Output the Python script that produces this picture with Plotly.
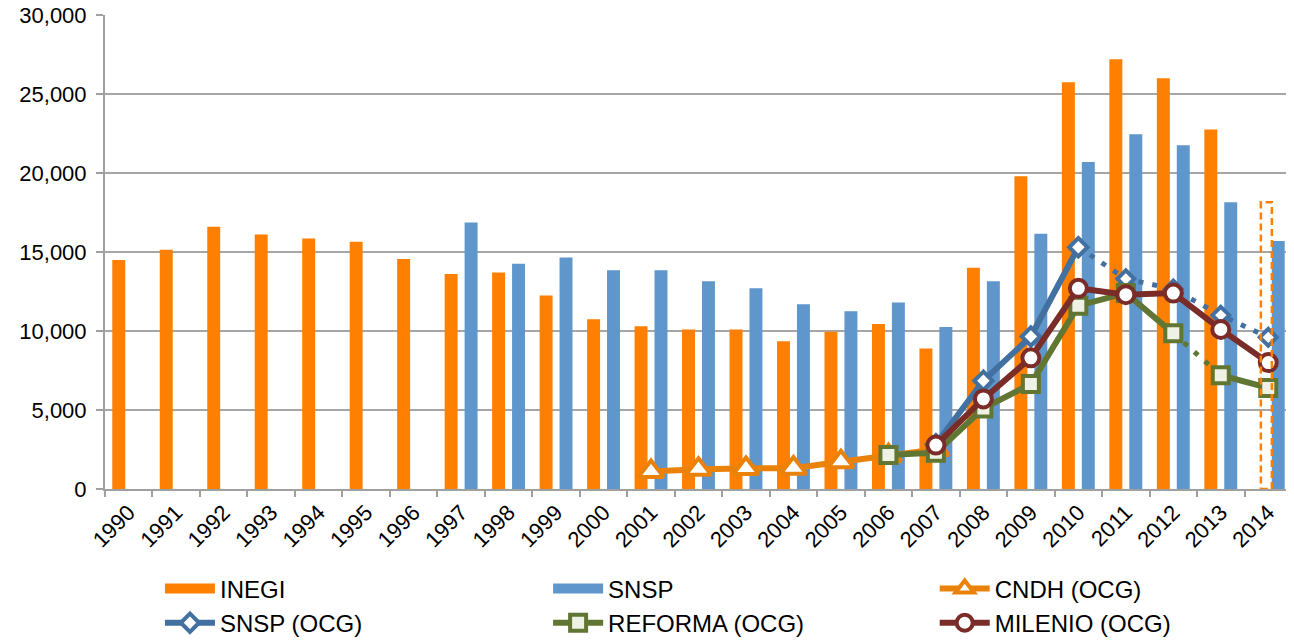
import plotly.graph_objects as go

years = [str(y) for y in range(1990, 2015)]

inegi = [14500, 15150, 16600, 16100, 15850, 15650, 14550, 13600, 13700, 12250,
         10750, 10300, 10100, 10100, 9350, 9950, 10450, 8900, 14000, 19800,
         25750, 27200, 26000, 22750, None]
inegi_2014_est = 18150

snsp = [None, None, None, None, None, None, None, 16870, 14250, 14650,
        13850, 13850, 13150, 12700, 11700, 11250, 11800, 10250, 13150, 16150,
        20700, 22450, 21750, 18150, 15700]

cndh_years = ["2001", "2002", "2003", "2004", "2005", "2006", "2007"]
cndh = [1100, 1250, 1300, 1320, 1720, 2100, 2500]

ocg_years = ["2007", "2008", "2009", "2010", "2011", "2012", "2013", "2014"]
snsp_ocg = [2830, 6850, 9650, 15300, 13300, 12650, 11000, 9600]
milenio_ocg = [2780, 5700, 8300, 12700, 12300, 12400, 10100, 8000]

reforma_years = ["2006", "2007", "2008", "2009", "2010", "2011", "2012", "2013", "2014"]
reforma_ocg = [2150, 2300, 5100, 6650, 11600, 12400, 9850, 7200, 6400]

yticks = [0, 5000, 10000, 15000, 20000, 25000, 30000]

C_INEGI = "#FF7F00"
C_SNSP = "#5F96CB"
C_CNDH = "#EA8209"
C_SNSPOCG = "#4271A1"
C_REF = "#627634"
C_MIL = "#7A2C28"

FONT = "Liberation Sans, Arial, sans-serif"

fig = go.Figure()

fig.add_trace(go.Bar(x=years, y=inegi, name="INEGI", marker=dict(color=C_INEGI, line_width=0),
                     showlegend=False))
fig.add_trace(go.Bar(x=years, y=snsp, name="SNSP", marker=dict(color=C_SNSP, line_width=0),
                     showlegend=False))
# legend keys for the bar series (wide swatches as in the original)
fig.add_trace(go.Scatter(x=[None], y=[None], name="INEGI", mode="lines",
                         line=dict(color=C_INEGI, width=14), legend="legend", showlegend=True))
fig.add_trace(go.Scatter(x=[None], y=[None], name="SNSP", mode="lines",
                         line=dict(color=C_SNSP, width=14), legend="legend2", showlegend=True))

fig.add_trace(go.Scatter(x=cndh_years, y=cndh, name="CNDH (OCG)", mode="lines+markers",
                         line=dict(color=C_CNDH, width=6),
                         marker=dict(symbol="triangle-up", size=22, color="white",
                                     line=dict(color=C_CNDH, width=4)),
                         legend="legend3"))

# SNSP (OCG): solid through 2010, dotted afterwards
i10 = ocg_years.index("2010")
fig.add_trace(go.Scatter(x=ocg_years[i10:], y=snsp_ocg[i10:], mode="lines+markers",
                         line=dict(color=C_SNSPOCG, width=5, dash="5px,9px"),
                         marker=dict(symbol="diamond", size=13, color="white",
                                     line=dict(color=C_SNSPOCG, width=4)),
                         showlegend=False, legend="legend4"))
fig.add_trace(go.Scatter(x=ocg_years[:i10 + 1], y=snsp_ocg[:i10 + 1], name="SNSP (OCG)",
                         mode="lines+markers",
                         line=dict(color=C_SNSPOCG, width=6),
                         marker=dict(symbol="diamond", size=14, color="white",
                                     line=dict(color=C_SNSPOCG, width=4)),
                         legend="legend4"))

# REFORMA (OCG): solid, dotted between 2012 and 2013
r12 = reforma_years.index("2012")
r13 = reforma_years.index("2013")
fig.add_trace(go.Scatter(x=reforma_years[r12:r13 + 1], y=reforma_ocg[r12:r13 + 1], mode="lines",
                         line=dict(color=C_REF, width=5, dash="5px,9px"),
                         showlegend=False, legend="legend5"))
ref_solid_y = reforma_ocg[:r12 + 1] + [None] + reforma_ocg[r13:]
ref_solid_x = reforma_years[:r12 + 1] + [reforma_years[r12]] + reforma_years[r13:]
fig.add_trace(go.Scatter(x=ref_solid_x, y=ref_solid_y, name="REFORMA (OCG)",
                         mode="lines+markers", connectgaps=False,
                         line=dict(color=C_REF, width=6),
                         marker=dict(symbol="square", size=16, color="#EEF1E3",
                                     line=dict(color=C_REF, width=4)),
                         legend="legend5"))

fig.add_trace(go.Scatter(x=ocg_years, y=milenio_ocg, name="MILENIO (OCG)", mode="lines+markers",
                         line=dict(color=C_MIL, width=6),
                         marker=dict(symbol="circle", size=17, color="white",
                                     line=dict(color=C_MIL, width=4)),
                         legend="legend6"))

# dashed outline for the estimated INEGI 2014 value
bargap = 0.16
bargroupgap = 0.35
k = years.index("2014")
half_w = (1 - bargap) / 2 * (1 - bargroupgap) / 2
cx = k - 0.04
fig.add_shape(type="rect", xref="x", yref="y", x0=cx - half_w * 0.85, x1=cx + half_w * 0.85,
              y0=0, y1=inegi_2014_est, line=dict(color=C_INEGI, width=2.5, dash="7px,4px"),
              fillcolor="rgba(0,0,0,0)", layer="above")


def leg(x, y):
    return dict(orientation="h", x=x, y=y, xanchor="left", yanchor="middle",
                font=dict(size=24, family=FONT), itemwidth=50,
                bgcolor="rgba(0,0,0,0)", borderwidth=0)


col = [0.0463, 0.3733, 0.6990]
row = [-0.211, -0.283]

# the page adds an 8px body margin, so the figure is made 8px smaller
fig.update_layout(
    width=1286, height=634,
    margin=dict(l=97, r=2, t=7, b=153, autoexpand=False),
    paper_bgcolor="white", plot_bgcolor="white",
    showlegend=True,
    barmode="group", bargap=bargap, bargroupgap=bargroupgap,
    font=dict(family=FONT, color="black"),
    legend=leg(col[0], row[0]),
    legend2=leg(col[1], row[0]),
    legend3=leg(col[2], row[0]),
    legend4=leg(col[0], row[1]),
    legend5=leg(col[1], row[1]),
    legend6=leg(col[2], row[1]),
    xaxis=dict(type="category", tickangle=-45, tickfont=dict(size=22),
               ticks="outside", tickson="boundaries", ticklen=6, tickcolor="#a0a0a0",
               tickwidth=2, showline=True, linecolor="#a0a0a0", linewidth=2,
               showgrid=False, range=[-0.5, 24.5], automargin=False,
               ticklabeloverflow="allow"),
    yaxis=dict(range=[0, 30000], tickvals=yticks, tickformat=",", tickfont=dict(size=22),
               ticks="outside", ticklen=7, tickcolor="#a0a0a0", tickwidth=2,
               ticklabelstandoff=5, ticklabeloverflow="allow",
               showline=True, linecolor="#a0a0a0", linewidth=2, automargin=False,
               showgrid=True, gridcolor="#a6a6a6", gridwidth=1.5, zeroline=False),
)

fig.write_html("out.html")
